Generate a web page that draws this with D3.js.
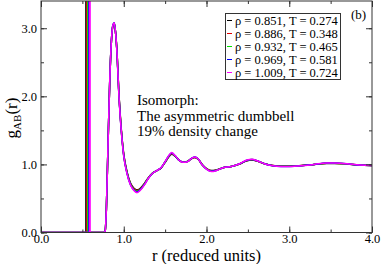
<!DOCTYPE html>
<html>
<head>
<meta charset="utf-8">
<title>g_AB(r) isomorph</title>
<style>
  body { margin: 0; background: #fff; }
</style>
</head>
<body>
<div id="container"></div>
<script src="https://d3js.org/d3.v7.min.js"></script>
<script>
// legend labels and line colours, one per state point
var labels = ['ρ = 0.851, T = 0.274', 'ρ = 0.886, T = 0.348', 'ρ = 0.932, T = 0.465',
              'ρ = 0.969, T = 0.581', 'ρ = 1.009, T = 0.724']
var colors = ['#000000', '#e00000', '#00e000', '#0000ff', '#ff00ff']

// intramolecular bond position (vertical spike) per state
var bondR = [0.543, 0.555, 0.566, 0.578, 0.590]

// common r grid
var rGrid = [0, 0.76, 0.775, 0.79, 0.81, 0.83, 0.85, 0.87, 0.885, 0.90,
             0.92, 0.94, 0.96, 0.98, 1.00, 1.04, 1.08, 1.12, 1.16, 1.20,
             1.25, 1.30, 1.35, 1.40, 1.45, 1.50, 1.55, 1.58, 1.62, 1.67,
             1.72, 1.77, 1.82, 1.86, 1.90, 1.95, 2.00, 2.06, 2.12, 2.20,
             2.30, 2.40, 2.48, 2.55, 2.62, 2.70, 2.80, 2.90, 3.00, 3.15,
             3.30, 3.45, 3.55, 3.70, 3.85, 4.00]

var g851 = [0, 0, 0.02, 0.34, 1.28, 2.18, 2.79, 3.04, 3.07, 2.95,
            2.62, 2.08, 1.69, 1.38, 1.15, 0.89, 0.73, 0.655, 0.625, 0.65,
            0.72, 0.81, 0.875, 0.91, 0.945, 1.03, 1.12, 1.15, 1.12, 1.06,
            1.035, 1.045, 1.085, 1.10, 1.075, 0.995, 0.94, 0.91, 0.92, 0.95,
            0.97, 1.005, 1.05, 1.065, 1.045, 1.01, 0.985, 0.975, 0.975, 0.985,
            1.00, 1.015, 1.015, 1.005, 0.99, 0.985]
var g886 = [0, 0, 0.02, 0.34, 1.29, 2.19, 2.79, 3.04, 3.07, 2.95,
            2.61, 2.07, 1.68, 1.37, 1.14, 0.88, 0.72, 0.645, 0.615, 0.64,
            0.715, 0.805, 0.873, 0.91, 0.947, 1.035, 1.125, 1.156, 1.123, 1.06,
            1.033, 1.043, 1.086, 1.103, 1.077, 0.993, 0.937, 0.905, 0.917, 0.95,
            0.97, 1.007, 1.053, 1.068, 1.047, 1.01, 0.983, 0.973, 0.973, 0.983,
            1.00, 1.017, 1.017, 1.007, 0.99, 0.985]
var g932 = [0, 0, 0.02, 0.35, 1.29, 2.19, 2.80, 3.05, 3.08, 2.95,
            2.61, 2.06, 1.67, 1.36, 1.13, 0.875, 0.713, 0.635, 0.605, 0.633,
            0.71, 0.803, 0.872, 0.91, 0.948, 1.037, 1.13, 1.163, 1.126, 1.06,
            1.032, 1.042, 1.088, 1.106, 1.078, 0.992, 0.934, 0.90, 0.914, 0.95,
            0.97, 1.008, 1.056, 1.071, 1.048, 1.01, 0.982, 0.972, 0.972, 0.982,
            1.00, 1.018, 1.018, 1.008, 0.99, 0.985]
var g969 = [0, 0, 0.02, 0.35, 1.30, 2.20, 2.80, 3.05, 3.08, 2.95,
            2.60, 2.055, 1.66, 1.355, 1.125, 0.867, 0.706, 0.628, 0.595, 0.627,
            0.705, 0.801, 0.871, 0.91, 0.949, 1.039, 1.135, 1.169, 1.128, 1.06,
            1.031, 1.041, 1.089, 1.108, 1.079, 0.991, 0.932, 0.898, 0.912, 0.95,
            0.97, 1.009, 1.058, 1.073, 1.049, 1.01, 0.981, 0.971, 0.971, 0.981,
            1.00, 1.019, 1.019, 1.009, 0.99, 0.985]
var g1009 = [0, 0, 0.02, 0.35, 1.30, 2.20, 2.80, 3.05, 3.08, 2.95,
             2.60, 2.05, 1.65, 1.35, 1.12, 0.86, 0.70, 0.62, 0.585, 0.62,
             0.70, 0.80, 0.87, 0.91, 0.95, 1.04, 1.14, 1.175, 1.13, 1.06,
             1.03, 1.04, 1.09, 1.11, 1.08, 0.99, 0.93, 0.895, 0.91, 0.95,
             0.97, 1.01, 1.06, 1.075, 1.05, 1.01, 0.98, 0.97, 0.97, 0.98,
             1.00, 1.02, 1.02, 1.01, 0.99, 0.985]
var series = [g851, g886, g932, g969, g1009]

var xTicks = [0, 1, 2, 3, 4]
var yTicks = [0, 1, 2, 3]

var width = 382
var height = 264
var serif = '"Liberation Serif", "Times New Roman", Times, "DejaVu Serif", serif'

var svg = d3.select('#container').append('svg')
    .attr('width', width)
    .attr('height', height)
    .attr('font-family', serif)

var x = d3.scaleLinear().domain([0, 4]).range([41, 372])
var y = d3.scaleLinear().domain([0, 3.4]).range([232.5, 1])

svg.append('clipPath').attr('id', 'clip')
  .append('rect')
    .attr('x', x(0)).attr('y', y(3.4))
    .attr('width', x(4) - x(0)).attr('height', y(0) - y(3.4))

var plot = svg.append('g').attr('clip-path', 'url(#clip)')

var line = d3.line()
    .x(function(d) { return x(d[0]) })
    .y(function(d) { return y(d[1]) })
    .curve(d3.curveMonotoneX)

series.forEach(function(g, i) {
  // bond spike
  plot.append('line')
      .attr('x1', x(bondR[i])).attr('x2', x(bondR[i]))
      .attr('y1', y(0)).attr('y2', y(3.4))
      .attr('stroke', colors[i])
      .attr('stroke-width', i == 4 ? 2 : 1.5)
  plot.append('path')
      .datum(rGrid.map(function(r, j) { return [r, g[j]] }))
      .attr('d', line)
      .attr('fill', 'none')
      .attr('stroke', colors[i])
      .attr('stroke-width', 1.5)
})

// axes: ticks inward on all four sides
var frame = svg.append('g')
frame.append('g').attr('transform', 'translate(0,' + y(0) + ')')
    .call(d3.axisBottom(x).tickValues(d3.range(0, 4.01, 0.5)).tickSize(-3).tickFormat(''))
frame.append('g').attr('transform', 'translate(0,' + y(0) + ')')
    .call(d3.axisBottom(x).tickValues(xTicks).tickSize(-6).tickPadding(2).tickFormat(d3.format('.1f')))
frame.append('g').attr('transform', 'translate(0,' + y(3.4) + ')')
    .call(d3.axisTop(x).tickValues(d3.range(0, 4.01, 0.5)).tickSize(-3).tickFormat(''))
frame.append('g').attr('transform', 'translate(0,' + y(3.4) + ')')
    .call(d3.axisTop(x).tickValues(xTicks).tickSize(-6).tickFormat(''))
frame.append('g').attr('transform', 'translate(' + x(0) + ',0)')
    .call(d3.axisLeft(y).tickValues(d3.range(0, 3.01, 0.5)).tickSize(-3).tickFormat(''))
frame.append('g').attr('transform', 'translate(' + x(0) + ',0)')
    .call(d3.axisLeft(y).tickValues(yTicks).tickSize(-6).tickPadding(4).tickFormat(d3.format('.1f')))
frame.append('g').attr('transform', 'translate(' + x(4) + ',0)')
    .call(d3.axisRight(y).tickValues(d3.range(0, 3.01, 0.5)).tickSize(-3).tickFormat(''))
frame.append('g').attr('transform', 'translate(' + x(4) + ',0)')
    .call(d3.axisRight(y).tickValues(yTicks).tickSize(-6).tickFormat(''))

frame.selectAll('.domain').remove()
frame.selectAll('g').attr('font-family', serif).attr('font-size', 12.5)
frame.selectAll('.tick line').attr('stroke', '#333')
frame.selectAll('.tick text').attr('fill', '#000')

svg.append('rect')
    .attr('x', x(0)).attr('y', y(3.4))
    .attr('width', x(4) - x(0)).attr('height', y(0) - y(3.4))
    .attr('fill', 'none').attr('stroke', '#333').attr('stroke-width', 1)

// legend
var legend = svg.append('g')
legend.append('rect')
    .attr('x', 225.5).attr('y', 13.5).attr('width', 115).attr('height', 66)
    .attr('fill', '#fff').attr('stroke', '#333')
labels.forEach(function(t, i) {
  var ly = 20.5 + i * 13
  legend.append('line')
      .attr('x1', 227).attr('x2', 232).attr('y1', ly).attr('y2', ly)
      .attr('stroke', colors[i])
  legend.append('text')
      .attr('x', 235).attr('y', ly + 4.5)
      .attr('font-size', 12.5)
      .text(t)
})

svg.append('text').attr('x', 351).attr('y', 19).attr('font-size', 13).text('(b)')

var note = ['Isomorph:', 'The asymmetric dumbbell', '19% density change']
note.forEach(function(t, i) {
  svg.append('text')
      .attr('x', 137).attr('y', 105 + i * 15.5)
      .attr('font-size', 15)
      .text(t)
})

// axis titles
svg.append('text')
    .attr('x', x(2)).attr('y', 261)
    .attr('text-anchor', 'middle')
    .attr('font-size', 16.5)
    .text('r (reduced units)')

var yl = svg.append('text')
    .attr('transform', 'translate(17,118) rotate(-90)')
    .attr('text-anchor', 'middle')
    .attr('font-size', 17)
yl.append('tspan').text('g')
yl.append('tspan').attr('dy', 4).attr('font-size', 11).text('AB')
yl.append('tspan').attr('dy', -4).text('(r)')
</script>
</body>
</html>
